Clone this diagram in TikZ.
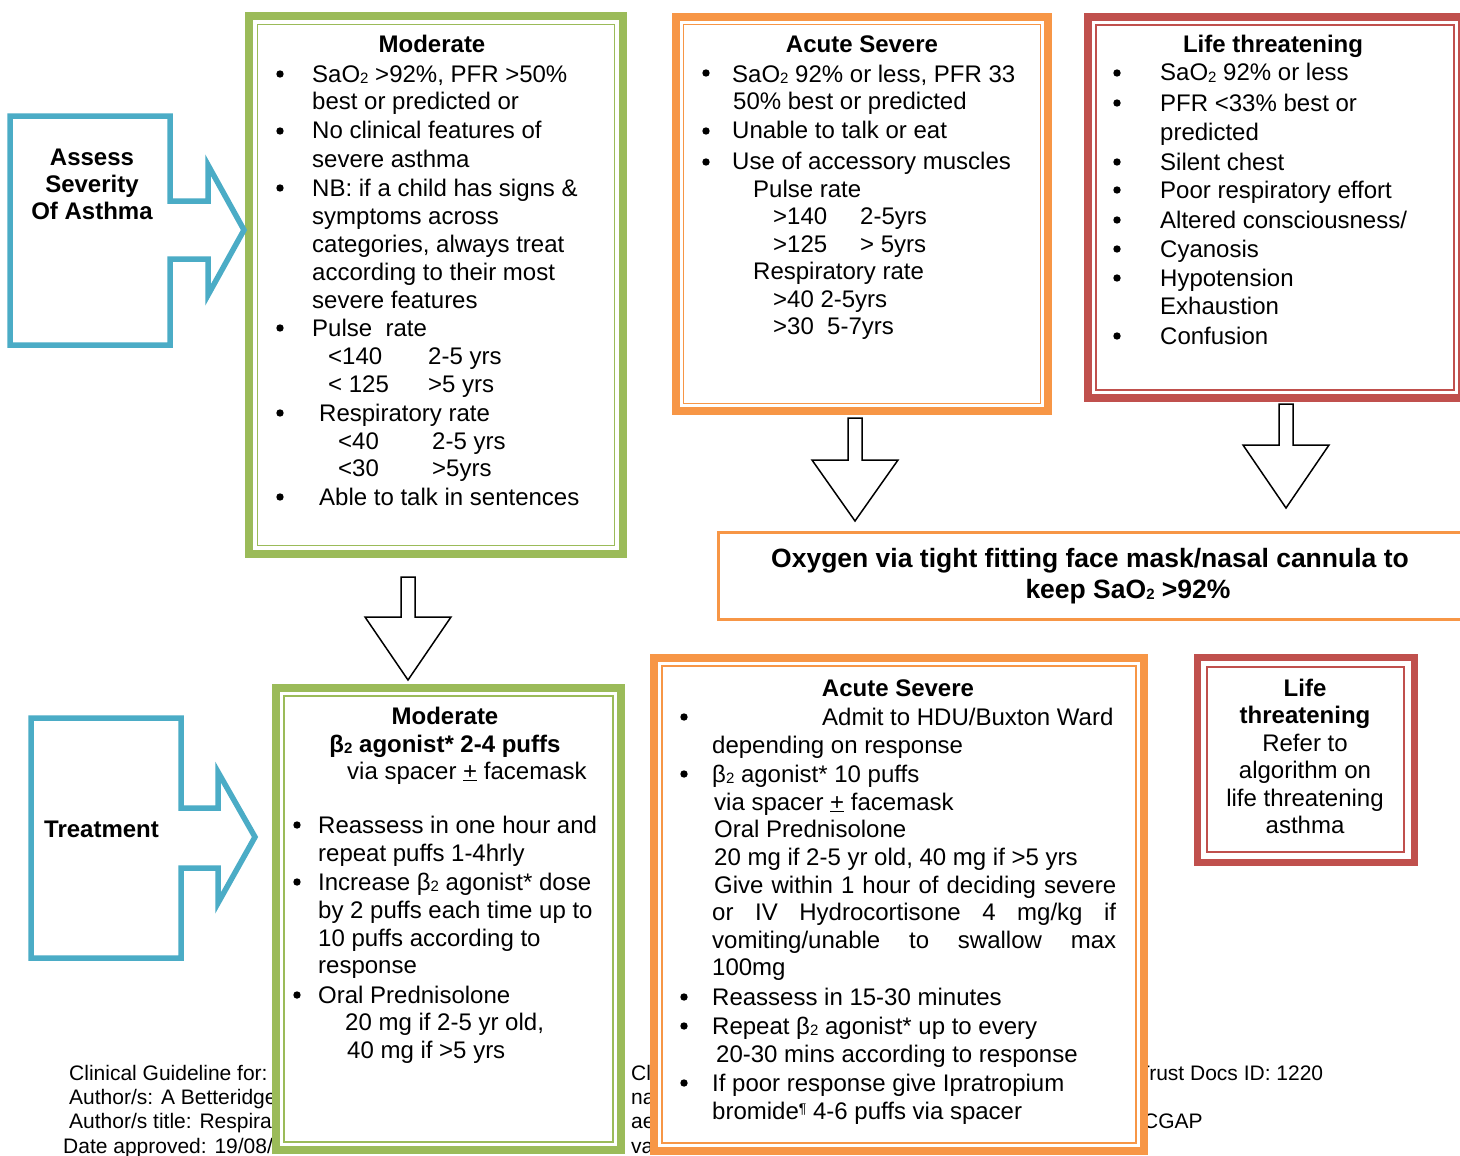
\documentclass[tikz,border=0pt]{standalone}
\usepackage{fontspec}
\setmainfont{Liberation Sans}
\usetikzlibrary{calc}
\definecolor{cgreen}{HTML}{9BBB59}
\definecolor{corange}{HTML}{F79646}
\definecolor{cred}{HTML}{C0504D}
\definecolor{cblue}{HTML}{4BACC6}
\newcommand\fsN{\fontsize{24}{28}\selectfont}
\newcommand\Sb[1]{\raisebox{-1.5pt}{\fontsize{15}{15}\selectfont #1}}
\newcommand\Tx[4]{\node[txt] (#1) at (#2,#3) {#4};}
\newcommand\Bu[2]{\fill (#1,#2) circle (3.7pt);}
\newcommand\Inner[3]{\draw[#3, line width=1.1pt] ([xshift=#2pt,yshift=-#2pt]#1.north west) rectangle ([xshift=-#2pt,yshift=#2pt]#1.south east);}
\newcommand\DownArrow[3]{\draw[barrow] ($(#1)+(-7,0)$) -- ($(#1)+(7,0)$) -- ($(#1)+(7,#3)$) -- ($(#1)+(43,#3)$) -- (#2) -- ($(#1)+(-43,#3)$) -- ($(#1)+(-7,#3)$) -- cycle;}
\tikzset{
  txt/.style={anchor=base west, inner sep=0pt, font=\fsN},
  ctr/.style={anchor=base, inner sep=0pt, font=\fsN},
  bctr/.style={anchor=base, inner sep=0pt, font=\fsN\bfseries},
  btxt/.style={anchor=base west, inner sep=0pt, font=\fsN\bfseries},
  ftxt/.style={anchor=base west, inner sep=0pt, font=\fontsize{21}{24}\selectfont},
  bx/.style={rectangle, draw=#1, line width=8pt, fill=white, inner sep=0pt, outer sep=0pt},
  barrow/.style={draw=black, line width=1.5pt, fill=white, line join=miter},
  bluearrow/.style={draw=cblue, line width=5.5pt, fill=white, line join=miter},
}
\begin{document}
\begin{tikzpicture}[x=1pt, y=-1pt]
\fill[white] (0,0) rectangle (1460,1156);
\useasboundingbox (0,0) rectangle (1460,1156);

% footer (partly hidden behind boxes)
\node[ftxt] (f1) at (69,1080) {Clinical Guideline for:};
\node[ftxt] (f2) at (69,1104) {Author/s: A Betteridge};
\node[ftxt] (f3) at (69,1128) {Author/s title: Respira};
\node[ftxt] (f4) at (63,1153) {Date approved: 19/08/};
\node[ftxt] (f5) at (631,1080) {Cl};
\node[ftxt] (f6) at (631,1104) {na};
\node[ftxt] (f7) at (631,1128) {ae};
\node[ftxt] (f8) at (631,1153) {va};
\node[ftxt] (f9) at (1137,1080) {Trust Docs ID: 1220};
\node[ftxt] (f10) at (1143,1128) {CGAP};

% boxes
\node[bx=cgreen, minimum width=374, minimum height=538] (modA) at (436,285) {};
\node[bx=corange, minimum width=372, minimum height=394] (acuA) at (862,214) {};
\node[bx=cred, minimum width=374, minimum height=381] (lifeA) at (1275,207.5) {};
\node[bx=corange, line width=3pt, minimum width=751.5, minimum height=86.5] (oxy) at (1094,575.75) {};
\node[bx=cgreen, minimum width=345, minimum height=462] (modB) at (448.5,919) {};
\node[bx=corange, minimum width=490, minimum height=493] (acuB) at (899,904.5) {};
\node[bx=cred, line width=7pt, minimum width=217, minimum height=205] (lifeB) at (1305.5,759.5) {};
\Inner{modA}{8.5}{cgreen}
\Inner{acuA}{7.5}{corange}
\Inner{lifeA}{8}{cred}
\Inner{modB}{8}{cgreen}
\Inner{acuB}{8}{corange}
\Inner{lifeB}{10}{cred}

% Moderate (assessment)
\node[bctr] (mAt) at (432,53) {Moderate};
\Tx{mA1}{312}{82}{SaO\Sb{2} >92\%, PFR >50\%}
\Tx{mA2}{312}{110}{best or predicted or}
\Tx{mA3}{312}{139}{No clinical features of}
\Tx{mA4}{312}{167}{severe asthma}
\Tx{mA5}{312}{196}{NB: if a child has signs \&}
\Tx{mA6}{312}{224}{symptoms across}
\Tx{mA7}{312}{252}{categories, always treat}
\Tx{mA8}{312}{280}{according to their most}
\Tx{mA9}{312}{308}{severe features}
\Tx{mA10}{312}{336}{Pulse\ \ rate}
\Tx{mA11}{328}{364}{<140}
\Tx{mA12}{428}{364}{2-5 yrs}
\Tx{mA13}{328}{392}{< 125}
\Tx{mA14}{428}{392}{>5 yrs}
\Tx{mA15}{319}{421}{Respiratory rate}
\Tx{mA16}{338}{449}{<40}
\Tx{mA17}{432}{449}{2-5 yrs}
\Tx{mA18}{338}{476}{<30}
\Tx{mA19}{432}{476}{>5yrs}
\Tx{mA20}{319}{505}{Able to talk in sentences}
\foreach \y in {74,131,188,328,413,497} {\Bu{280}{\y}}

% Acute severe (assessment)
\node[bctr] (aAt) at (862,53) {Acute Severe};
\Tx{aA1}{732}{82}{SaO\Sb{2} 92\% or less, PFR 33}
\Tx{aA2}{733}{110}{50\% best or predicted}
\Tx{aA3}{732}{139}{Unable to talk or eat}
\Tx{aA4}{732}{169}{Use of accessory muscles}
\Tx{aA5}{753}{197}{Pulse rate}
\Tx{aA6}{773}{224}{>140}
\Tx{aA7}{860}{224}{2-5yrs}
\Tx{aA8}{773}{252}{>125}
\Tx{aA9}{860}{252}{> 5yrs}
\Tx{aA10}{753}{279}{Respiratory rate}
\Tx{aA11}{773}{307}{>40 2-5yrs}
\Tx{aA12}{773}{334}{>30\ \ 5-7yrs}
\foreach \y in {73,131,162} {\Bu{706}{\y}}

% Life threatening (assessment)
\node[bctr] (lAt) at (1273,53) {Life threatening};
\Tx{lA1}{1160}{81}{SaO\Sb{2} 92\% or less}
\Tx{lA2}{1160}{111}{PFR <33\% best or}
\Tx{lA3}{1160}{140}{predicted}
\Tx{lA4}{1160}{170}{Silent chest}
\Tx{lA5}{1160}{198}{Poor respiratory effort}
\Tx{lA6}{1160}{228}{Altered consciousness/}
\Tx{lA7}{1160}{257}{Cyanosis}
\Tx{lA8}{1160}{286}{Hypotension}
\Tx{lA9}{1160}{314}{Exhaustion}
\Tx{lA10}{1160}{344}{Confusion}
\foreach \y in {73,103,162,190,220,249,278,336} {\Bu{1117}{\y}}

% Oxygen
\node[anchor=base, inner sep=0pt, font=\fontsize{26.5}{31}\selectfont\bfseries] (ox1) at (1090,567) {Oxygen via tight fitting face mask/nasal cannula to};
\node[anchor=base, inner sep=0pt, font=\fontsize{26.5}{31}\selectfont\bfseries] (ox2) at (1128,598) {keep SaO\Sb{2} >92\%};

% Moderate (treatment)
\node[bctr] (mBt) at (445,724) {Moderate};
\node[bctr] (mBt2) at (445,752) {β\Sb{2} agonist* 2-4 puffs};
\Tx{mB0}{347}{779}{via spacer \underline{+} facemask}
\Tx{mB1}{318}{833}{Reassess in one hour and}
\Tx{mB2}{318}{861}{repeat puffs 1-4hrly}
\Tx{mB3}{318}{890}{Increase β\Sb{2} agonist* dose}
\Tx{mB4}{318}{918}{by 2 puffs each time up to}
\Tx{mB5}{318}{946}{10 puffs according to}
\Tx{mB6}{318}{973}{response}
\Tx{mB7}{318}{1003}{Oral Prednisolone}
\Tx{mB8}{345}{1030}{20 mg if 2-5 yr old,}
\Tx{mB9}{347}{1058}{40 mg if >5 yrs}
\foreach \y in {825,882,995} {\Bu{297}{\y}}

% Acute severe (treatment)
\node[bctr] (aBt) at (898,696) {Acute Severe};
\Tx{aB1}{822}{725}{Admit to HDU/Buxton Ward}
\Tx{aB2}{712}{753}{depending on response}
\Tx{aB3}{712}{782}{β\Sb{2} agonist* 10 puffs}
\Tx{aB4}{714}{810}{via spacer \underline{+} facemask}
\Tx{aB5}{714}{837}{Oral Prednisolone}
\Tx{aB6}{714}{865}{20 mg if 2-5 yr old, 40 mg if >5 yrs}
\Tx{aB7}{714}{893}{\makebox[402pt][s]{Give within 1 hour of deciding severe}}
\Tx{aB8}{712}{920}{\makebox[404pt][s]{or IV Hydrocortisone 4 mg/kg if}}
\Tx{aB9}{712}{948}{\makebox[404pt][s]{vomiting/unable to swallow max}}
\Tx{aB10}{712}{975}{100mg}
\Tx{aB11}{712}{1005}{Reassess in 15-30 minutes}
\Tx{aB12}{712}{1034}{Repeat β\Sb{2} agonist* up to every}
\Tx{aB13}{716}{1062}{20-30 mins according to response}
\Tx{aB14}{712}{1091}{If poor response give Ipratropium}
\Tx{aB15}{712}{1119}{bromide\raisebox{6pt}{\fontsize{14}{14}\selectfont ¶} 4-6 puffs via spacer}
\foreach \y in {717,774,997,1026,1083} {\Bu{684}{\y}}

% Life threatening (treatment)
\node[bctr] (lB1) at (1305,696) {Life};
\node[bctr] (lB2) at (1305,723) {threatening};
\node[ctr] (lB3) at (1305,751) {Refer to};
\node[ctr] (lB4) at (1305,778) {algorithm on};
\node[ctr] (lB5) at (1305,806) {life threatening};
\node[ctr] (lB6) at (1305,833) {asthma};

% down block arrows
\coordinate (dAtop) at (408,577); \coordinate (dAtip) at (408,680);
\coordinate (dBtop) at (855,418); \coordinate (dBtip) at (855,521);
\coordinate (dCtop) at (1286,404); \coordinate (dCtip) at (1286,508);
\DownArrow{dAtop}{dAtip}{40}
\DownArrow{dBtop}{dBtip}{42}
\DownArrow{dCtop}{dCtip}{41}

% blue arrow boxes
\draw[bluearrow] (10,116) -- (170,116) -- (170,201) -- (208,201) -- (208,165) -- (244,230) -- (208,295) -- (208,259) -- (170,259) -- (170,345) -- (10,345) -- cycle;
\node[bctr] (as1) at (92,165) {Assess};
\node[bctr] (as2) at (92,192) {Severity};
\node[bctr] (as3) at (92,219) {Of Asthma};
\draw[bluearrow] (31,718) -- (181,718) -- (181,808) -- (218,808) -- (218,772) -- (255,837) -- (218,903) -- (218,868) -- (181,868) -- (181,958) -- (31,958) -- cycle;
\node[btxt] (trt) at (44,837) {Treatment};
\end{tikzpicture}
\end{document}
